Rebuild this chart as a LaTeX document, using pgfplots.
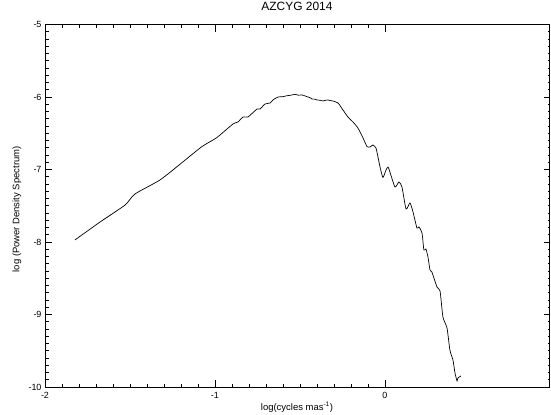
\documentclass[border=0pt]{standalone}
\usepackage{pgfplots}
\pgfplotsset{compat=1.18}
\usepackage{fontspec}
\setmainfont{Liberation Sans}

% log power density spectrum of AZ Cyg (2014)
\pgfplotstableread{
x y
-1.824 -7.972
-1.676 -7.724
-1.529 -7.490
-1.471 -7.338
-1.324 -7.145
-1.206 -6.928
-1.078 -6.686
-0.990 -6.561
-0.894 -6.372
-0.865 -6.345
-0.835 -6.276
-0.806 -6.276
-0.753 -6.166
-0.735 -6.166
-0.706 -6.097
-0.676 -6.083
-0.659 -6.041
-0.629 -6.000
-0.600 -5.995
-0.576 -5.982
-0.553 -5.975
-0.529 -5.963
-0.510 -5.975
-0.488 -5.972
-0.470 -5.985
-0.459 -5.996
-0.440 -6.010
-0.429 -6.028
-0.412 -6.030
-0.400 -6.041
-0.382 -6.045
-0.365 -6.055
-0.350 -6.045
-0.335 -6.041
-0.320 -6.050
-0.306 -6.055
-0.276 -6.083
-0.247 -6.179
-0.218 -6.276
-0.188 -6.345
-0.159 -6.428
-0.129 -6.566
-0.106 -6.683
-0.088 -6.690
-0.071 -6.662
-0.053 -6.703
-0.041 -6.828
-0.029 -6.966
-0.012 -7.110
0.006 -7.007
0.018 -6.966
0.029 -7.034
0.059 -7.241
0.082 -7.172
0.100 -7.241
0.124 -7.545
0.147 -7.462
0.165 -7.586
0.188 -7.807
0.200 -7.793
0.218 -7.876
0.229 -8.110
0.241 -8.097
0.253 -8.207
0.265 -8.386
0.276 -8.414
0.306 -8.621
0.324 -8.676
0.341 -9.034
0.365 -9.186
0.382 -9.490
0.400 -9.628
0.412 -9.807
0.424 -9.917
0.429 -9.876
0.447 -9.848
}\psdtable

\begin{document}
\begin{tikzpicture}
\path[use as bounding box] (-45bp,-28bp) rectangle (506bp,387bp);
\begin{axis}[
  scale only axis,
  width=504bp, height=362.5bp,
  xmin=-2, xmax=0.965,
  ymin=-10, ymax=-5,
  xtick={-2,-1,0}, ytick={-10,-9,-8,-7,-6,-5},
  minor tick num=9,
  tick align=inside,
  ytick pos=left,
  major tick length=7bp,
  minor tick length=3.5bp,
  axis line style={line width=0.8bp},
  every tick/.style={black, line width=0.6bp},
  /pgf/number format/assume math mode=true,
  ticklabel style={font=\fontsize{9}{10}\selectfont},
  xticklabel style={yshift=-2bp},
  title={AZCYG 2014},
  title style={font=\fontsize{12}{13}\selectfont, at={(axis description cs:0.5,1)}, anchor=center, yshift=12.5bp},
  xlabel={log(cycles mas\textsuperscript{-1})},
  ylabel={log (Power Density Spectrum)},
  label style={font=\fontsize{9.5}{10.5}\selectfont},
  xlabel style={at={(axis description cs:0.5,-0.055)}, anchor=center},
  ylabel style={at={(axis description cs:-0.0556,0.49)}, anchor=center},
]
\addplot[black, line width=0.7bp, smooth, tension=0.35] table[x=x, y=y] {\psdtable};
\end{axis}
% right-hand y axis: short ticks only
\begin{axis}[
  scale only axis,
  width=504bp, height=362.5bp,
  xmin=-2, xmax=0.965,
  ymin=-10, ymax=-5,
  axis x line=none,
  axis y line*=right,
  ytick={-10,-9,-8,-7,-6,-5},
  yticklabels={},
  minor y tick num=9,
  tick align=inside,
  major tick length=5bp,
  minor tick length=1bp,
  axis line style={line width=0.8bp, -},
  every tick/.style={black, line width=0.6bp},
]
\end{axis}
\end{tikzpicture}
\end{document}
